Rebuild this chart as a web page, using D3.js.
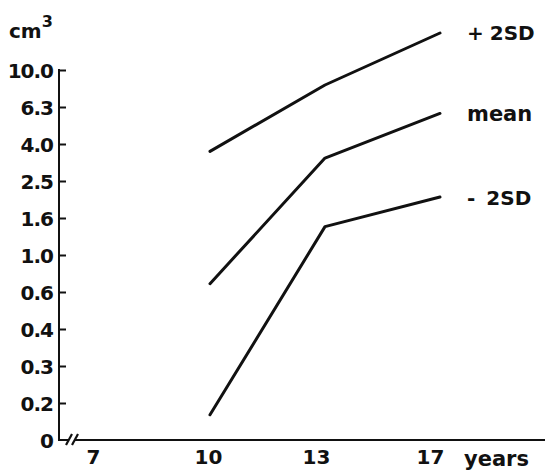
<!DOCTYPE html>
<html><head><meta charset="utf-8">
<script src="https://cdn.jsdelivr.net/npm/d3@7"></script>
<style>
html,body{margin:0;padding:0;background:#fff;}
svg text{font-family:"DejaVu Sans",sans-serif;font-weight:bold;fill:#111;}
</style></head>
<body><svg id="c" width="545" height="471"></svg>
<script>
const years = [7, 10, 13, 17];
const yTickLabels = ["0", "0.2", "0.3", "0.4", "0.6", "1.0", "1.6", "2.5", "4.0", "6.3", "10.0"];
const yTickValues = [0, 0.2, 0.3, 0.4, 0.6, 1.0, 1.6, 2.5, 4.0, 6.3, 10.0];
const dataYears = [10, 13, 17];
const plus2SD = [3.7, 8.5, 16.0];
const meanVals = [0.69, 3.43, 5.9];
const minus2SD = [0.136, 1.46, 2.11];
const seriesNames = [["+", "2SD"], ["mean"], ["-", "2SD"]];

const svg = d3.select("#c");
const x0 = 59, y0 = 440, step = 37;
const yDomain = yTickValues.concat([16.0]);
const y = d3.scaleLinear().domain(yDomain).range(yDomain.map((d, i) => y0 - i * step));
const x = d3.scalePoint().domain(years).range([95, 440]);

// y axis
const yAxis = d3.axisLeft(y).tickValues(yTickValues).tickSize(-7).tickPadding(6)
  .tickFormat((d, i) => yTickLabels[i]);
const gy = svg.append("g").attr("transform", `translate(${x0},0)`).call(yAxis);
gy.select(".domain").remove();
gy.selectAll(".tick line").attr("stroke", "#111").attr("stroke-width", 2);
gy.selectAll(".tick text").style("font-size", "20px").style("letter-spacing", "-1px").attr("dy", "0.36em");
gy.selectAll(".tick").filter(d => d === 0).select("line").remove();
svg.append("line").attr("x1", x0).attr("x2", x0).attr("y1", y(10) - 1).attr("y2", y0)
  .attr("stroke", "#111").attr("stroke-width", 2);

// x axis
svg.append("line").attr("x1", x0 - 1).attr("x2", 545).attr("y1", y0).attr("y2", y0)
  .attr("stroke", "#111").attr("stroke-width", 2);
svg.append("rect").attr("x", 68).attr("y", y0 - 3).attr("width", 7).attr("height", 6).attr("fill", "#fff");
[0, 6].forEach(o => svg.append("line").attr("x1", 66 + o).attr("y1", y0 + 5).attr("x2", 72 + o).attr("y2", y0 - 6)
  .attr("stroke", "#111").attr("stroke-width", 2.2));
const xAxis = d3.axisBottom(x).tickSize(0).tickPadding(10);
const gx = svg.append("g").attr("transform", `translate(0,${y0})`).call(xAxis);
gx.select(".domain").remove();
gx.selectAll(".tick text").style("font-size", "20px")
  .attr("dx", d => d === 7 ? -2 : d === 13 ? -9 : d === 17 ? -10 : -2);
svg.append("text").attr("x", 464).attr("y", 466).style("font-size", "21px").text("years");

// unit label
const u = svg.append("text").attr("x", 9).attr("y", 38).style("font-size", "20px");
u.append("tspan").text("cm");
u.append("tspan").attr("dy", -11).style("font-size", "16px").text("3");

// lines
const line = d3.line().x((d, i) => x(dataYears[i])).y(d => y(d));
[plus2SD, meanVals, minus2SD].forEach(s => {
  svg.append("path").datum(s).attr("d", line).attr("fill", "none")
    .attr("stroke", "#111").attr("stroke-width", 3).attr("stroke-linecap", "round").attr("stroke-linejoin", "round");
});

// series labels
const labelY = [y(plus2SD[2]) + 7, y(meanVals[2]) + 8, y(minus2SD[2]) + 8];
seriesNames.forEach((n, i) => {
  const t = svg.append("text").attr("x", 467).attr("y", labelY[i]).style("font-size", n.length > 1 ? "20px" : "21px");
  t.append("tspan").text(n[0]);
  if (n.length > 1) t.append("tspan").attr("dx", n[0] === "-" ? 11 : 6).text(n[1]);
});
</script></body></html>
